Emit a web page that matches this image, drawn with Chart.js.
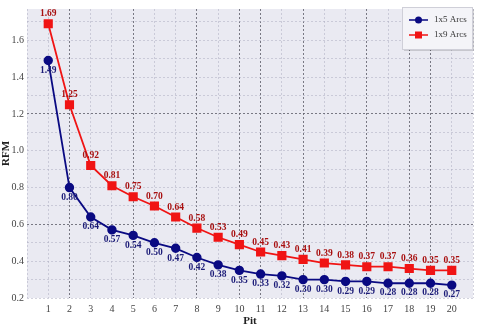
<!DOCTYPE html>
<html>
<head>
<meta charset="utf-8">
<script src="https://cdn.jsdelivr.net/npm/chart.js@4"></script>
<style>
  html, body { margin: 0; padding: 0; background: #fff; }
  #wrap { width: 480px; height: 330px; }
</style>
</head>
<body>
<div id="wrap"><canvas id="c"></canvas></div>
<script>
// datos
const pits = [1, 2, 3, 4, 5, 6, 7, 8, 9, 10, 11, 12, 13, 14, 15, 16, 17, 18, 19, 20];
const arcs1x5 = [1.49, 0.80, 0.64, 0.57, 0.54, 0.50, 0.47, 0.42, 0.38, 0.35,
    0.33, 0.32, 0.30, 0.30, 0.29, 0.29, 0.28, 0.28, 0.28, 0.27];
const arcs1x9 = [1.69, 1.25, 0.92, 0.81, 0.75, 0.70, 0.64, 0.58, 0.53, 0.49,
    0.45, 0.43, 0.41, 0.39, 0.38, 0.37, 0.37, 0.36, 0.35, 0.35];
const yTicks = [0.2, 0.4, 0.6, 0.8, 1.0, 1.2, 1.4, 1.6];

const BLUE = '#0a0a82';
const RED = '#f01414';
const SERIF = '"Liberation Serif", "DejaVu Serif", serif';

// líneas más oscuras de la rejilla (como en la imagen)
const darkX = [2, 5, 8, 10, 11, 13, 16, 18, 19];
const darkY = [0.6, 1.2];
const GRID_DARK = 'rgba(100,100,112,0.85)';
const GRID_LIGHT = 'rgba(175,175,195,0.55)';

const toPts = arr => arr.map((v, i) => ({ x: pits[i], y: v }));

// fondo del área de trazado
const plotBg = {
    id: 'plotBg',
    beforeDraw(chart) {
        const { ctx, chartArea: a } = chart;
        ctx.save();
        ctx.fillStyle = '#eaeaf2';
        ctx.fillRect(a.left, a.top, a.right - a.left, a.bottom - a.top);
        ctx.restore();
    }
};

// etiquetas de valores
const valueLabels = {
    id: 'valueLabels',
    afterDatasetsDraw(chart) {
        const ctx = chart.ctx;
        ctx.save();
        ctx.font = 'bold 9.5px ' + SERIF;
        ctx.textAlign = 'center';
        chart.data.datasets.forEach((ds, di) => {
            const meta = chart.getDatasetMeta(di);
            meta.data.forEach((pt, i) => {
                const v = ds.data[i].y.toFixed(2);
                if (di === 0) {
                    ctx.fillStyle = '#1c1c78';
                    ctx.textBaseline = 'top';
                    ctx.fillText(v, pt.x, pt.y + 5);
                } else {
                    ctx.fillStyle = '#a81010';
                    ctx.textBaseline = 'bottom';
                    ctx.fillText(v, pt.x, pt.y - 5);
                }
            });
        });
        ctx.restore();
    }
};

// leyenda dentro del área
const boxLegend = {
    id: 'boxLegend',
    afterDraw(chart) {
        const ctx = chart.ctx;
        const x = 402, y = 7, w = 70, h = 42;
        ctx.save();
        ctx.fillStyle = 'rgba(0,0,0,0.15)';
        ctx.fillRect(x + 2, y + 2, w, h);
        ctx.fillStyle = '#f4f4f8';
        ctx.strokeStyle = '#cfcfd8';
        ctx.lineWidth = 1;
        ctx.fillRect(x, y, w, h);
        ctx.strokeRect(x + 0.5, y + 0.5, w, h);
        const rows = [
            { label: '1x5 Arcs', color: BLUE, shape: 'circle', yy: y + 13 },
            { label: '1x9 Arcs', color: RED, shape: 'rect', yy: y + 28 }
        ];
        rows.forEach(r => {
            ctx.strokeStyle = r.color;
            ctx.fillStyle = r.color;
            ctx.lineWidth = 1.5;
            ctx.beginPath();
            ctx.moveTo(x + 7, r.yy);
            ctx.lineTo(x + 26, r.yy);
            ctx.stroke();
            ctx.beginPath();
            if (r.shape === 'circle') ctx.arc(x + 16.5, r.yy, 3.5, 0, Math.PI * 2);
            else ctx.rect(x + 13, r.yy - 3.5, 7, 7);
            ctx.fill();
            ctx.fillStyle = '#333';
            ctx.font = '9px ' + SERIF;
            ctx.textAlign = 'left';
            ctx.textBaseline = 'middle';
            ctx.fillText(r.label, x + 32, r.yy);
        });
        ctx.restore();
    }
};

new Chart(document.getElementById('c'), {
    type: 'line',
    data: {
        datasets: [
            {
                label: '1x5 Arcs',
                data: toPts(arcs1x5),
                borderColor: BLUE,
                backgroundColor: BLUE,
                borderWidth: 1.8,
                pointStyle: 'circle',
                pointRadius: 3.8,
                tension: 0,
                clip: false
            },
            {
                label: '1x9 Arcs',
                data: toPts(arcs1x9),
                borderColor: RED,
                backgroundColor: RED,
                borderWidth: 1.8,
                pointStyle: 'rect',
                pointRadius: 5.2,
                tension: 0,
                clip: false
            }
        ]
    },
    options: {
        responsive: true,
        maintainAspectRatio: false,
        animation: false,
        layout: { padding: { top: 0, right: 4, left: 0, bottom: 0 } },
        plugins: {
            legend: { display: false },
            tooltip: { enabled: false }
        },
        scales: {
            x: {
                type: 'linear',
                min: 0,
                max: 21,
                afterBuildTicks: s => { s.ticks = [0].concat(pits, [21]).map(v => ({ value: v })); },
                afterFit: s => { s.height = 32; },
                border: { display: false, dash: [2, 2] },
                grid: {
                    color: c => darkX.includes(c.tick && c.tick.value) ? GRID_DARK : GRID_LIGHT,
                    drawTicks: false
                },
                ticks: {
                    padding: 5,
                    color: '#444',
                    font: { family: SERIF, size: 10 },
                    callback: v => (v >= 1 && v <= 20) ? v : ''
                },
                title: {
                    display: true,
                    text: 'Pit',
                    color: '#222',
                    font: { family: SERIF, size: 11, weight: 'bold' },
                    padding: { top: 0, bottom: 2 }
                }
            },
            y: {
                min: 0.2,
                max: 1.77,
                afterBuildTicks: s => {
                    const t = [];
                    for (let k = 2; k <= 17; k++) t.push({ value: k / 10 });
                    s.ticks = t;
                },
                afterFit: s => { s.width = 27; },
                border: { display: false, dash: [2, 2] },
                grid: {
                    color: c => darkY.some(d => Math.abs(d - (c.tick ? c.tick.value : -1)) < 1e-6) ? GRID_DARK : GRID_LIGHT,
                    drawTicks: false
                },
                ticks: {
                    padding: 3,
                    color: '#444',
                    font: { family: SERIF, size: 10 },
                    callback: v => yTicks.some(t => Math.abs(t - v) < 1e-6) ? v.toFixed(1) : ''
                },
                title: {
                    display: true,
                    text: 'RFM',
                    color: '#222',
                    font: { family: SERIF, size: 11, weight: 'bold' },
                    padding: 0
                }
            }
        }
    },
    plugins: [plotBg, valueLabels, boxLegend]
});
</script>
</body>
</html>
